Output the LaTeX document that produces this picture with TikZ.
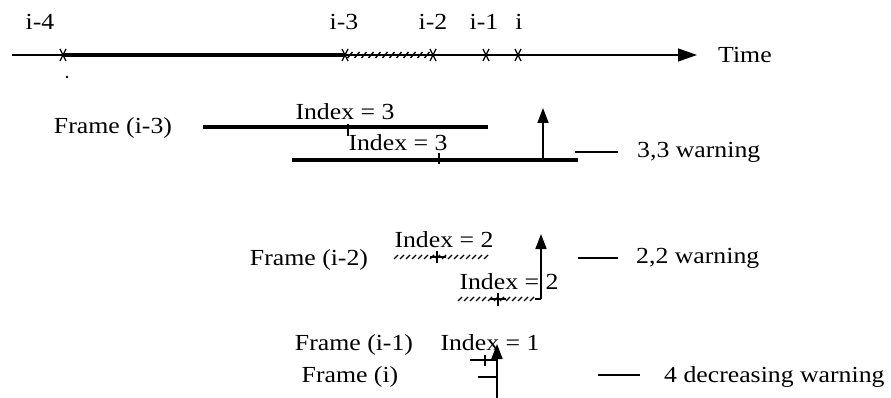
\documentclass[tikz,border=0pt]{standalone}
\usepackage{fontspec}
\setmainfont[FakeStretch=1.12]{Liberation Serif}
\usetikzlibrary{arrows.meta}
\begin{document}
\begin{tikzpicture}[x=1pt,y=-1pt,
  lbl/.style={font=\fontsize{23}{25}\selectfont, inner sep=0pt},
  thickbar/.style={line width=3.4pt},
  hatchstroke/.style={line width=1.4pt},
  tickmark/.style={line width=1.4pt},
  uparrow/.style={line width=1.6pt,-{Triangle[length=15pt,width=11pt]}},
  axisline/.style={line width=1.3pt,-{Triangle[length=19pt,width=13pt]}},
  dashmark/.style={line width=1.3pt}]
\useasboundingbox (0,0) rectangle (891,398);
% top labels
\node[lbl] (l4) at (40,22) {i-4};
\node[lbl] (l3) at (344,22) {i-3};
\node[lbl] (l2) at (433,22) {i-2};
\node[lbl] (l1) at (484,22) {i-1};
\node[lbl] (l0) at (519,22) {i};
% axis
\coordinate (a0) at (12,55);
\coordinate (a1) at (697,55);
\coordinate (t4) at (63,55);
\coordinate (t3) at (345,55);
\coordinate (t2) at (433,55);
\draw[axisline] (a0) -- (a1);
\node[lbl,anchor=west] (time) at (718,55) {Time};
\draw[line width=4pt] (t4) -- (t3);
\foreach \x in {350,357,...,428} \draw[hatchstroke] (\x-2.5,58) -- (\x+2.5,52);
\foreach \x in {63,345,433,486,518} \draw[line width=1.3pt] (\x-3,49) -- (\x+3,61) (\x+3,49) -- (\x-3,61);
\fill (67,77) circle (1.4);
% Frame (i-3)
\node[lbl] (f3) at (113,128) {Frame (i-3)};
\coordinate (f3a) at (203,127);
\coordinate (f3b) at (488,127);
\draw[thickbar] (f3a) -- (f3b);
\draw[tickmark] (348,124) -- (348,136);
\node[lbl] (i3a) at (345,112) {Index = 3};
\node[lbl] (i3b) at (398,143) {Index = 3};
\coordinate (f3c) at (292,160);
\coordinate (f3d) at (578,160);
\draw[thickbar] (f3c) -- (f3d);
\draw[tickmark] (439,153) -- (439,164);
\coordinate (w3b) at (543,161);
\coordinate (w3t) at (543,108);
\draw[uparrow] (w3b) -- (w3t);
\coordinate (d3a) at (575,152);
\coordinate (d3b) at (618,152);
\draw[dashmark] (d3a) -- (d3b);
\node[lbl,anchor=west] (w3) at (637,152) {3,3 warning};
% Frame (i-2)
\node[lbl] (f2) at (309,260) {Frame (i-2)};
\node[lbl] (i2a) at (444,240) {Index = 2};
\foreach \x in {396,402,...,486} \draw[hatchstroke] (\x-2,259) -- (\x+2,255);
\draw[tickmark] (430,257) -- (446,257);
\draw[tickmark] (437,251) -- (437,263);
\node[lbl] (i2b) at (509,282) {Index = 2};
\foreach \x in {460,466,...,534} \draw[hatchstroke] (\x-2,301) -- (\x+2,297);
\draw[tickmark] (490,299) -- (506,299);
\draw[tickmark] (498,293) -- (498,306);
\coordinate (w2b) at (541,299);
\coordinate (w2t) at (541,234);
\draw[tickmark] (535,299) -- (w2b);
\draw[uparrow] (w2b) -- (w2t);
\coordinate (d2a) at (578,258);
\coordinate (d2b) at (618,258);
\draw[dashmark] (d2a) -- (d2b);
\node[lbl,anchor=west] (w2) at (636,258) {2,2 warning};
% Frame (i-1) and Frame (i)
\node[lbl] (f1) at (354,345) {Frame (i-1)};
\node[lbl] (i1) at (490,343) {Index = 1};
\coordinate (s1a) at (470,360);
\coordinate (s1b) at (497,360);
\draw[tickmark] (s1a) -- (s1b);
\draw[tickmark] (485,355) -- (485,366);
\node[lbl] (f0) at (350,377) {Frame (i)};
\coordinate (s0a) at (478,377);
\coordinate (s0b) at (497,377);
\draw[tickmark] (s0a) -- (s0b);
\coordinate (w1b) at (497,398);
\coordinate (w1t) at (497,344);
\draw[uparrow] (w1b) -- (w1t);
\coordinate (d1a) at (598,375);
\coordinate (d1b) at (640,375);
\draw[dashmark] (d1a) -- (d1b);
\node[lbl,anchor=west] (w1) at (664,377) {4 decreasing warning};
\end{tikzpicture}
\end{document}
